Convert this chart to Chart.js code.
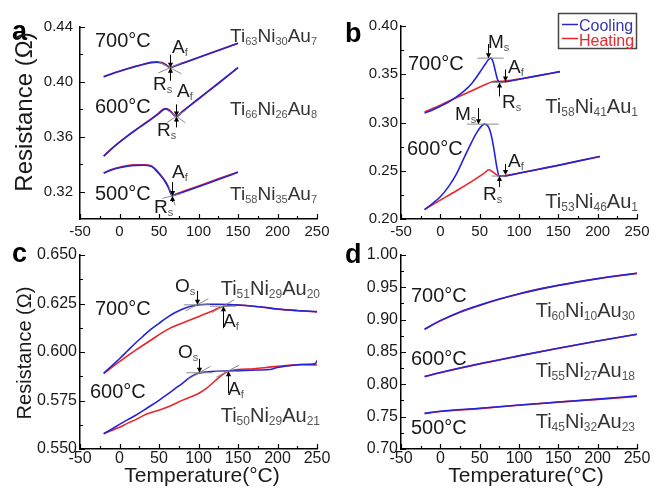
<!DOCTYPE html>
<html><head><meta charset="utf-8">
<script src="https://cdn.jsdelivr.net/npm/chart.js@4.4.1/dist/chart.umd.min.js"></script>
<style>
html,body{margin:0;padding:0;background:#fff;}
#wrap{position:relative;width:654px;height:490px;overflow:hidden;background:#fff;}
#wrap canvas{position:absolute;left:0;top:0;}
</style>
</head><body>
<div id="wrap">
<canvas id="pa" width="654" height="490"></canvas>
<canvas id="pb" width="654" height="490"></canvas>
<canvas id="pc" width="654" height="490"></canvas>
<canvas id="pd" width="654" height="490"></canvas>
</div>
<script>
// ---------- tick labels ----------
const xTickVals = [-50, 0, 50, 100, 150, 200, 250];
const xMinorVals = [-25, 25, 75, 125, 175, 225];
const aYTickVals = [0.32, 0.36, 0.40, 0.44];
const aYMinorVals = [0.34, 0.38, 0.42];
const bYTickVals = [0.20, 0.25, 0.30, 0.35, 0.40];
const bYMinorVals = [0.225, 0.275, 0.325, 0.375];
const cYTickVals = [0.550, 0.575, 0.600, 0.625, 0.650];
const cYMinorVals = [0.5625, 0.5875, 0.6125, 0.6375];
const dYTickVals = [0.70, 0.75, 0.80, 0.85, 0.90, 0.95, 1.00];
const dYMinorVals = [0.725, 0.775, 0.825, 0.875, 0.925, 0.975];

// ---------- panel a ----------
const a700T    = [-20, -10, 0, 10, 20, 30, 40, 47, 53, 58, 61, 64, 70, 80, 100, 125, 150];
const a700Cool = [0.4037, 0.4058, 0.4077, 0.4095, 0.4112, 0.4127, 0.4140, 0.4143, 0.4137, 0.4125, 0.4113, 0.4103, 0.4115, 0.4136, 0.4177, 0.4229, 0.4281];
const a700Heat = [0.4037, 0.4059, 0.4078, 0.4096, 0.4113, 0.4129, 0.4143, 0.4147, 0.4142, 0.4129, 0.4116, 0.4105, 0.4116, 0.4137, 0.4178, 0.4230, 0.4282];
const a600T    = [-20, -10, 0, 10, 20, 30, 40, 50, 55, 58, 62, 66, 69, 72, 80, 100, 125, 150];
const a600Cool = [0.3458, 0.3512, 0.3560, 0.3605, 0.3647, 0.3687, 0.3727, 0.3770, 0.3795, 0.3803, 0.3795, 0.3775, 0.3758, 0.3748, 0.3784, 0.3875, 0.3988, 0.4103];
const a600Heat = [0.3458, 0.3513, 0.3561, 0.3606, 0.3648, 0.3689, 0.3730, 0.3774, 0.3799, 0.3806, 0.3799, 0.3779, 0.3761, 0.3750, 0.3786, 0.3877, 0.3990, 0.4104];
const a500T    = [-20, -10, 0, 10, 20, 30, 40, 45, 50, 55, 58, 62, 64, 66.5, 70, 80, 100, 125, 150];
const a500Cool = [0.3335, 0.3358, 0.3374, 0.3385, 0.3391, 0.3392, 0.3385, 0.3362, 0.3330, 0.3295, 0.3270, 0.3228, 0.3200, 0.3168, 0.3175, 0.3195, 0.3236, 0.3288, 0.3340];
const a500Heat = [0.3337, 0.3361, 0.3378, 0.3389, 0.3395, 0.3396, 0.3389, 0.3367, 0.3336, 0.3300, 0.3275, 0.3232, 0.3203, 0.3171, 0.3179, 0.3200, 0.3241, 0.3293, 0.3343];

// ---------- panel b ----------
const b700CoolT = [-20, -10, 0, 10, 20, 30, 40, 50, 57, 61, 64, 67, 70, 73, 76, 80, 100, 125, 152];
const b700Cool  = [0.3097, 0.3130, 0.3168, 0.3210, 0.3262, 0.3325, 0.3405, 0.3518, 0.3603, 0.3650, 0.3667, 0.3630, 0.3530, 0.3440, 0.3415, 0.3418, 0.3448, 0.3486, 0.3527];
const b700HeatT = [-20, 0, 20, 40, 55, 65, 70, 75, 80, 100, 125, 152];
const b700Heat  = [0.3110, 0.3180, 0.3255, 0.3330, 0.3385, 0.3420, 0.3428, 0.3427, 0.3428, 0.3450, 0.3487, 0.3527];
const b600CoolT = [-20, -10, 0, 10, 20, 30, 40, 47, 52, 56, 60, 63, 66, 69, 72, 75, 80, 100, 125, 150, 175, 203];
const b600Cool  = [0.2096, 0.2160, 0.2230, 0.2330, 0.2460, 0.2630, 0.2800, 0.2905, 0.2960, 0.2983, 0.2970, 0.2920, 0.2820, 0.2680, 0.2530, 0.2445, 0.2445, 0.2475, 0.2515, 0.2556, 0.2600, 0.2647];
const b600HeatT = [-20, 0, 20, 40, 55, 62, 67, 72, 75, 80, 100, 125, 150, 175, 203];
const b600Heat  = [0.2100, 0.2195, 0.2290, 0.2390, 0.2470, 0.2510, 0.2485, 0.2455, 0.2445, 0.2446, 0.2476, 0.2516, 0.2557, 0.2601, 0.2648];

// ---------- panel c ----------
const c700CoolT = [-20, -10, 0, 10, 20, 30, 40, 50, 60, 70, 80, 90, 100, 110, 125, 140, 160, 180, 200, 225, 250];
const c700Cool  = [0.5891, 0.5928, 0.5965, 0.6005, 0.6045, 0.6082, 0.6118, 0.6148, 0.6177, 0.6202, 0.6222, 0.6236, 0.6243, 0.6246, 0.6246, 0.6245, 0.6240, 0.6232, 0.6222, 0.6214, 0.6208];
const c700HeatT = [-20, 0, 20, 40, 60, 80, 100, 115, 125, 135, 145, 160, 180, 200, 225, 250];
const c700Heat  = [0.5889, 0.5950, 0.6008, 0.6062, 0.6114, 0.6150, 0.6182, 0.6207, 0.6225, 0.6238, 0.6243, 0.6240, 0.6231, 0.6221, 0.6213, 0.6207];
const c600CoolT = [-20, -10, 0, 10, 20, 30, 40, 50, 60, 70, 80, 90, 100, 110, 125, 150, 175, 190, 200, 220, 240, 248, 250];
const c600Cool  = [0.5579, 0.5602, 0.5627, 0.5650, 0.5673, 0.5698, 0.5724, 0.5751, 0.5780, 0.5810, 0.5840, 0.5872, 0.5891, 0.5897, 0.5901, 0.5904, 0.5907, 0.5910, 0.5920, 0.5932, 0.5937, 0.5940, 0.5956];
const c600HeatT = [-20, 0, 10, 20, 30, 40, 50, 60, 70, 80, 90, 100, 110, 120, 130, 137, 150, 170, 190, 210, 230, 250];
const c600Heat  = [0.5579, 0.5612, 0.5632, 0.5650, 0.5672, 0.5688, 0.5700, 0.5715, 0.5733, 0.5752, 0.5768, 0.5786, 0.5812, 0.5848, 0.5882, 0.5899, 0.5909, 0.5914, 0.5922, 0.5930, 0.5935, 0.5933];

// ---------- panel d ----------
const d700T    = [-20, 0, 25, 50, 75, 100, 125, 150, 175, 200, 225, 250];
const d700Cool = [0.8853, 0.8985, 0.9120, 0.9225, 0.9318, 0.9398, 0.9468, 0.9530, 0.9585, 0.9635, 0.9678, 0.9717];
const d700Heat = [0.8853, 0.8982, 0.9115, 0.9220, 0.9315, 0.9400, 0.9472, 0.9532, 0.9586, 0.9634, 0.9677, 0.9716];
const d600T    = [-20, 0, 50, 100, 150, 200, 250];
const d600Cool = [0.8121, 0.8182, 0.8318, 0.8440, 0.8558, 0.8670, 0.8775];
const d600Heat = [0.8119, 0.8180, 0.8316, 0.8441, 0.8559, 0.8669, 0.8774];
const d500T    = [-20, 0, 50, 100, 150, 200, 250];
const d500Cool = [0.7551, 0.7583, 0.7630, 0.7680, 0.7726, 0.7771, 0.7822];
const d500Heat = [0.7550, 0.7580, 0.7625, 0.7677, 0.7725, 0.7768, 0.7812];

// ---------- styling ----------
const BLUE = '#2424d8';
const RED = '#e8262b';
const FONT = '"Liberation Sans", Arial, Helvetica, sans-serif';
const TXT = '#1a1a1a';
const GREY = '#333333';

function comp(a, b, c, d, e, f) { return [[a,0],[b,1],[c,0],[d,1],[e,0],[f,1]]; }
function sub(a, b) { return [[a,0],[b,1]]; }

const deco = {
  pa: {
    yMinor: aYMinorVals,
    marks: [
      {x:64, y:0.4103, dir:'down', len:13, tan:[28,-24], tl:13},
      {x:64, y:0.4103, dir:'up', len:13},
      {x:72, y:0.3748, dir:'down', len:12, tan:[35,-33], tl:11},
      {x:72, y:0.3748, dir:'up', len:11},
      {x:66.5, y:0.3168, dir:'down', len:14, tan:[72,-14], tl:10},
      {x:66.5, y:0.3168, dir:'up', len:6}
    ],
    texts: [
      {p:[['a',0]], x:12, y:40, s:27, bold:true, c:'#000'},
      {p:[['700°C',0]], x:95, y:47, s:20},
      {p:comp('Ti','63','Ni','30','Au','7'), x:317, y:42, s:19, ss:11, align:'right', c:GREY},
      {p:sub('A','f'), x:172, y:53, s:19, ss:11},
      {p:sub('R','s'), x:153, y:90, s:19, ss:11},
      {p:[['600°C',0]], x:95, y:113, s:20},
      {p:comp('Ti','66','Ni','26','Au','8'), x:317, y:115, s:19, ss:11, align:'right', c:GREY},
      {p:sub('A','f'), x:177, y:97, s:19, ss:11},
      {p:sub('R','s'), x:157, y:136, s:19, ss:11},
      {p:[['500°C',0]], x:95, y:200, s:20},
      {p:comp('Ti','58','Ni','35','Au','7'), x:317, y:200, s:19, ss:11, align:'right', c:GREY},
      {p:sub('A','f'), x:172, y:178, s:19, ss:11},
      {p:sub('R','s'), x:154, y:213, s:19, ss:11}
    ],
    rot: [{t:'Resistance (Ω)', x:25, y:112, s:24}]
  },
  pb: {
    yMinor: bYMinorVals,
    marks: [
      {x:61, y:0.3667, dir:'down', len:14, tan:[0], tl:13, tcx:64},
      {x:82, y:0.3426, dir:'down', len:12},
      {x:74, y:0.3415, dir:'up', len:14, tan:[0], tl:8},
      {x:48.5, y:0.2983, dir:'down', len:16, tan:[0], tl:16, tcx:54},
      {x:82, y:0.2457, dir:'down', len:11},
      {x:74, y:0.2445, dir:'up', len:11, tan:[0], tl:7}
    ],
    texts: [
      {p:[['b',0]], x:345, y:42, s:27, bold:true, c:'#000'},
      {p:[['700°C',0]], x:408, y:70, s:20},
      {p:sub('M','s'), x:488, y:48, s:19, ss:11},
      {p:sub('A','f'), x:508, y:73, s:19, ss:11},
      {p:sub('R','s'), x:502, y:108, s:19, ss:11},
      {p:comp('Ti','58','Ni','41','Au','1'), x:638, y:113, s:20, ss:12, align:'right', c:GREY},
      {p:sub('M','s'), x:455, y:120, s:19, ss:11},
      {p:[['600°C',0]], x:407, y:155, s:20},
      {p:sub('A','f'), x:508, y:167, s:19, ss:11},
      {p:sub('R','s'), x:483, y:200, s:19, ss:11},
      {p:comp('Ti','53','Ni','46','Au','1'), x:638, y:208, s:20, ss:12, align:'right', c:GREY}
    ],
    legend: true
  },
  pc: {
    yMinor: cYMinorVals,
    marks: [
      {x:98, y:0.6243, dir:'down', len:14, tan:[0,-28], tl:13},
      {x:131, y:0.6236, dir:'up', len:22, tan:[0,-30], tl:13},
      {x:101, y:0.5893, dir:'down', len:14, tan:[0,-30], tl:13},
      {x:137, y:0.5901, dir:'up', len:22, tan:[0,-28], tl:13}
    ],
    texts: [
      {p:[['c',0]], x:12, y:262, s:27, bold:true, c:'#000'},
      {p:sub('O','s'), x:175, y:292, s:19, ss:11},
      {p:comp('Ti','51','Ni','29','Au','20'), x:320, y:295, s:20, ss:12, align:'right', c:GREY},
      {p:[['700°C',0]], x:95, y:315, s:20},
      {p:sub('A','f'), x:223, y:327, s:19, ss:11},
      {p:sub('O','s'), x:178, y:358, s:19, ss:11},
      {p:[['600°C',0]], x:90, y:398, s:20},
      {p:sub('A','f'), x:228, y:395, s:19, ss:11},
      {p:comp('Ti','50','Ni','29','Au','21'), x:320, y:422, s:20, ss:12, align:'right', c:GREY},
      {p:[['Temperature(°C)',0]], x:202, y:482, s:21, align:'center'}
    ],
    rot: [{t:'Resistance (Ω)', x:25, y:353, s:20}]
  },
  pd: {
    yMinor: dYMinorVals,
    marks: [],
    texts: [
      {p:[['d',0]], x:345, y:263, s:27, bold:true, c:'#000'},
      {p:[['700°C',0]], x:411, y:302, s:20},
      {p:comp('Ti','60','Ni','10','Au','30'), x:635, y:317, s:20, ss:12, align:'right', c:GREY},
      {p:[['600°C',0]], x:411, y:365, s:20},
      {p:comp('Ti','55','Ni','27','Au','18'), x:635, y:377, s:20, ss:12, align:'right', c:GREY},
      {p:[['500°C',0]], x:411, y:434, s:20},
      {p:comp('Ti','45','Ni','32','Au','23'), x:635, y:428, s:20, ss:12, align:'right', c:GREY},
      {p:[['Temperature(°C)',0]], x:526, y:482, s:21, align:'center'}
    ]
  }
};

function drawRich(ctx, t) {
  const size = t.s, ss = t.ss || Math.round(size * 0.6);
  const w8 = t.bold ? 'bold ' : '';
  let w = 0;
  t.p.forEach(([s, isSub]) => { ctx.font = w8 + (isSub ? ss : size) + 'px ' + FONT; w += ctx.measureText(s).width; });
  let cx = t.align === 'right' ? t.x - w : t.align === 'center' ? t.x - w / 2 : t.x;
  ctx.textBaseline = 'alphabetic';
  ctx.textAlign = 'left';
  t.p.forEach(([s, isSub]) => {
    ctx.font = w8 + (isSub ? ss : size) + 'px ' + FONT;
    ctx.fillStyle = isSub ? '#555' : (t.c || TXT);
    ctx.fillText(s, cx, isSub ? t.y + Math.round(size * 0.17) : t.y);
    cx += ctx.measureText(s).width;
  });
}

function arrowHead(ctx, x, y, dir) {
  const L = 5, W = 2.6;
  ctx.beginPath();
  if (dir === 'down') { ctx.moveTo(x, y); ctx.lineTo(x - W, y - L); ctx.lineTo(x + W, y - L); }
  else { ctx.moveTo(x, y); ctx.lineTo(x - W, y + L); ctx.lineTo(x + W, y + L); }
  ctx.closePath();
  ctx.fill();
}

const decoPlugin = {
  id: 'deco',
  afterDraw(chart) {
    const cfg = deco[chart.canvas.id];
    const ctx = chart.ctx, xs = chart.scales.x, ys = chart.scales.y;
    const ca = chart.chartArea;
    ctx.save();
    // inward ticks
    ctx.strokeStyle = '#000';
    ctx.lineWidth = 1.2;
    ctx.beginPath();
    xTickVals.forEach(v => { const p = Math.round(xs.getPixelForValue(v)) + 0.5; ctx.moveTo(p, ca.bottom); ctx.lineTo(p, ca.bottom - 5); });
    xMinorVals.forEach(v => { const p = Math.round(xs.getPixelForValue(v)) + 0.5; ctx.moveTo(p, ca.bottom); ctx.lineTo(p, ca.bottom - 3); });
    ys.ticks.forEach(t => { const p = Math.round(ys.getPixelForValue(t.value)) + 0.5; ctx.moveTo(ca.left, p); ctx.lineTo(ca.left + 5, p); });
    cfg.yMinor.forEach(v => { const p = Math.round(ys.getPixelForValue(v)) + 0.5; ctx.moveTo(ca.left, p); ctx.lineTo(ca.left + 3, p); });
    ctx.stroke();
    // transition markers
    cfg.marks.forEach(m => {
      const px = xs.getPixelForValue(m.x), py = ys.getPixelForValue(m.y);
      if (m.tan) {
        const cx = m.tcx !== undefined ? xs.getPixelForValue(m.tcx) : px;
        ctx.strokeStyle = '#8a8a8a';
        ctx.lineWidth = 1;
        m.tan.forEach(a => {
          const r = a * Math.PI / 180, dx = Math.cos(r) * m.tl, dy = Math.sin(r) * m.tl;
          ctx.beginPath(); ctx.moveTo(cx - dx, py - dy); ctx.lineTo(cx + dx, py + dy); ctx.stroke();
        });
      }
      ctx.strokeStyle = '#000';
      ctx.fillStyle = '#000';
      ctx.lineWidth = 1;
      const x0 = Math.round(px) + 0.5;
      ctx.beginPath();
      if (m.dir === 'down') { ctx.moveTo(x0, py - m.len); ctx.lineTo(x0, py - 3); }
      else { ctx.moveTo(x0, py + m.len); ctx.lineTo(x0, py + 3); }
      ctx.stroke();
      arrowHead(ctx, x0, py, m.dir);
    });
    // texts
    cfg.texts.forEach(t => drawRich(ctx, t));
    (cfg.rot || []).forEach(r => {
      ctx.save();
      ctx.translate(r.x, r.y);
      ctx.rotate(-Math.PI / 2);
      ctx.font = r.s + 'px ' + FONT;
      ctx.fillStyle = TXT;
      ctx.textAlign = 'center';
      ctx.textBaseline = 'middle';
      ctx.fillText(r.t, 0, 0);
      ctx.restore();
    });
    if (cfg.legend) {
      ctx.strokeStyle = '#444';
      ctx.lineWidth = 1.5;
      ctx.strokeRect(558.5, 13.5, 78, 35);
      ctx.lineWidth = 1.5;
      ctx.strokeStyle = BLUE;
      ctx.beginPath(); ctx.moveTo(562, 24.5); ctx.lineTo(578, 24.5); ctx.stroke();
      ctx.strokeStyle = RED;
      ctx.beginPath(); ctx.moveTo(562, 38.5); ctx.lineTo(578, 38.5); ctx.stroke();
      ctx.font = '16px ' + FONT;
      ctx.textAlign = 'left';
      ctx.textBaseline = 'alphabetic';
      ctx.fillStyle = '#3535b0';
      ctx.fillText('Cooling', 579, 31);
      ctx.fillStyle = RED;
      ctx.fillText('Heating', 579, 45.5);
    }
    ctx.restore();
  }
};

function ds(T, R, color) {
  return { data: T.map((t, i) => ({ x: t, y: R[i] })), borderColor: color, borderWidth: 1.6,
           pointRadius: 0, fill: false, cubicInterpolationMode: 'monotone' };
}

function makePanel(id, area, yMin, yMax, yTicks, digits, tickSize, yPad, xPad, datasets) {
  const YW = 60, XH = 30;
  return new Chart(document.getElementById(id), {
    type: 'line',
    data: { datasets },
    options: {
      responsive: false, animation: false, devicePixelRatio: 1,
      events: [],
      layout: { padding: { left: area.l - YW, top: area.t, right: 654 - area.r, bottom: 490 - area.b - XH } },
      plugins: { legend: { display: false }, tooltip: { enabled: false } },
      scales: {
        x: {
          type: 'linear', min: -50, max: 250,
          afterFit: s => { s.height = XH; },
          afterBuildTicks: s => { s.ticks = xTickVals.map(v => ({ value: v })); },
          ticks: { autoSkip: false, maxRotation: 0, padding: xPad, color: TXT, font: { family: FONT, size: tickSize }, callback: v => String(v) },
          grid: { display: true, drawOnChartArea: false, drawTicks: false },
          border: { display: true, color: '#000', width: 1.5 }
        },
        y: {
          type: 'linear', min: yMin, max: yMax,
          afterFit: s => { s.width = YW; },
          afterBuildTicks: s => { s.ticks = yTicks.map(v => ({ value: v })); },
          ticks: { autoSkip: false, padding: yPad, color: TXT, font: { family: FONT, size: tickSize }, callback: v => Number(v).toFixed(digits) },
          grid: { display: true, drawOnChartArea: false, drawTicks: false },
          border: { display: true, color: '#000', width: 1.5 }
        }
      }
    },
    plugins: [decoPlugin]
  });
}

makePanel('pa', {l:80, t:27, r:317, b:219}, 0.30, 0.44, aYTickVals, 2, 15, 7, 4, [
  ds(a700T, a700Cool, BLUE), ds(a600T, a600Cool, BLUE), ds(a500T, a500Cool, BLUE),
  ds(a700T, a700Heat, RED), ds(a600T, a600Heat, RED), ds(a500T, a500Heat, RED)
]);
makePanel('pb', {l:401, t:26, r:637, b:219}, 0.20, 0.40, bYTickVals, 2, 15, 3, 4, [
  ds(b700CoolT, b700Cool, BLUE), ds(b600CoolT, b600Cool, BLUE),
  ds(b700HeatT, b700Heat, RED), ds(b600HeatT, b600Heat, RED)
]);
makePanel('pc', {l:80, t:255, r:317, b:449}, 0.550, 0.650, cYTickVals, 3, 16, 3, 0, [
  ds(c700CoolT, c700Cool, BLUE), ds(c600CoolT, c600Cool, BLUE),
  ds(c700HeatT, c700Heat, RED), ds(c600HeatT, c600Heat, RED)
]);
makePanel('pd', {l:401, t:255, r:637, b:449}, 0.70, 1.00, dYTickVals, 2, 16, 3, 0, [
  ds(d700T, d700Cool, BLUE), ds(d600T, d600Cool, BLUE), ds(d500T, d500Cool, BLUE),
  ds(d700T, d700Heat, RED), ds(d600T, d600Heat, RED), ds(d500T, d500Heat, RED)
]);
</script>
</body></html>
